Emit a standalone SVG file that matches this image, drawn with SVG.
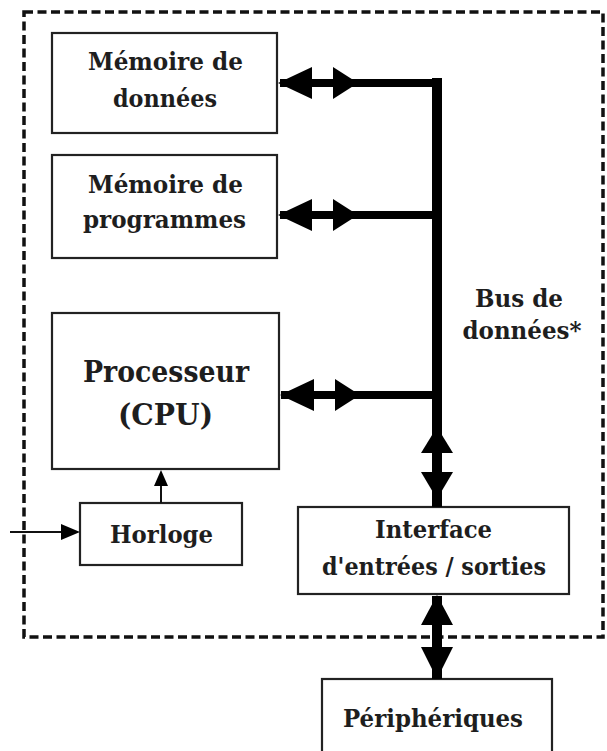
<svg xmlns="http://www.w3.org/2000/svg" width="607" height="751" viewBox="0 0 607 751" font-family="DejaVu Serif, Liberation Serif, serif">
<style>
.box{fill:#fff;stroke:#222;stroke-width:2.2}
.t{font-weight:bold;fill:#1e1e1e;text-anchor:middle;font-size:25px}
.big{font-size:29px}
.bus{stroke:#000;fill:none}
.head{fill:#000}
.thin{stroke:#111;stroke-width:2;fill:none}
.frame{fill:none;stroke:#111;stroke-width:3.5;stroke-dasharray:9 4.5}
</style>
<rect width="607" height="751" fill="#fff"/>
<rect id="system" class="frame" x="24" y="12" width="579" height="625"/>
<g id="mem-donnees">
<rect class="box" x="52" y="33" width="225" height="100"/>
<text class="t" x="165.5" y="70" textLength="155" lengthAdjust="spacingAndGlyphs">Mémoire de</text>
<text class="t" x="165" y="107" textLength="104" lengthAdjust="spacingAndGlyphs">données</text>
</g>
<g id="mem-programmes">
<rect class="box" x="52" y="155" width="225" height="103"/>
<text class="t" x="165.5" y="193" textLength="155" lengthAdjust="spacingAndGlyphs">Mémoire de</text>
<text class="t" x="164.5" y="228" textLength="163" lengthAdjust="spacingAndGlyphs">programmes</text>
</g>
<g id="cpu">
<rect class="box" x="52" y="313" width="227" height="156"/>
<text class="t big" x="166" y="382" textLength="166" lengthAdjust="spacingAndGlyphs">Processeur</text>
<text class="t big" x="165.5" y="425" textLength="95" lengthAdjust="spacingAndGlyphs">(CPU)</text>
</g>
<g id="horloge">
<rect class="box" x="80" y="503" width="162" height="62"/>
<text class="t" x="161.5" y="543" textLength="103" lengthAdjust="spacingAndGlyphs">Horloge</text>
</g>
<g id="interface">
<rect class="box" x="298" y="507" width="271" height="87"/>
<text class="t" x="433.5" y="538" textLength="117" lengthAdjust="spacingAndGlyphs">Interface</text>
<text class="t" x="434" y="575" textLength="224" lengthAdjust="spacingAndGlyphs">d'entrées / sorties</text>
</g>
<g id="peripheriques">
<rect class="box" x="322" y="679" width="230" height="90"/>
<text class="t" x="433" y="727" textLength="180" lengthAdjust="spacingAndGlyphs">Périphériques</text>
</g>
<g id="bus-label">
<text class="t" x="519" y="307" textLength="88" lengthAdjust="spacingAndGlyphs">Bus de</text>
<text class="t" x="522" y="339" textLength="119" lengthAdjust="spacingAndGlyphs">données*</text>
</g>
<g id="connectors">
<path class="bus" stroke-width="10" d="M437 78 V507"/>
<path class="bus" stroke-width="8" d="M280 83 H442 M280 215 H437 M281 395 H437"/>
<polygon class="head" points="278,83 312,67 312,99"/>
<polygon class="head" points="358,83 333,67 333,99"/>
<polygon class="head" points="278,215 312,199 312,231"/>
<polygon class="head" points="358,215 333,199 333,231"/>
<polygon class="head" points="280,395 314,379 314,411"/>
<polygon class="head" points="360,395 335,379 335,411"/>
<polygon class="head" points="437,427 421,453 453,453"/>
<polygon class="head" points="437,499 421,472 453,472"/>
<path class="bus" stroke-width="10" d="M437 596 V679"/>
<polygon class="head" points="437,595 421,625 453,625"/>
<polygon class="head" points="437,679 421,647 453,647"/>
<path class="thin" d="M161 503 V484"/>
<polygon class="head" points="161,470 154,486 168,486"/>
<path class="thin" d="M10 532 H64"/>
<polygon class="head" points="80,532 61,524 61,540"/>
</g>
</svg>
